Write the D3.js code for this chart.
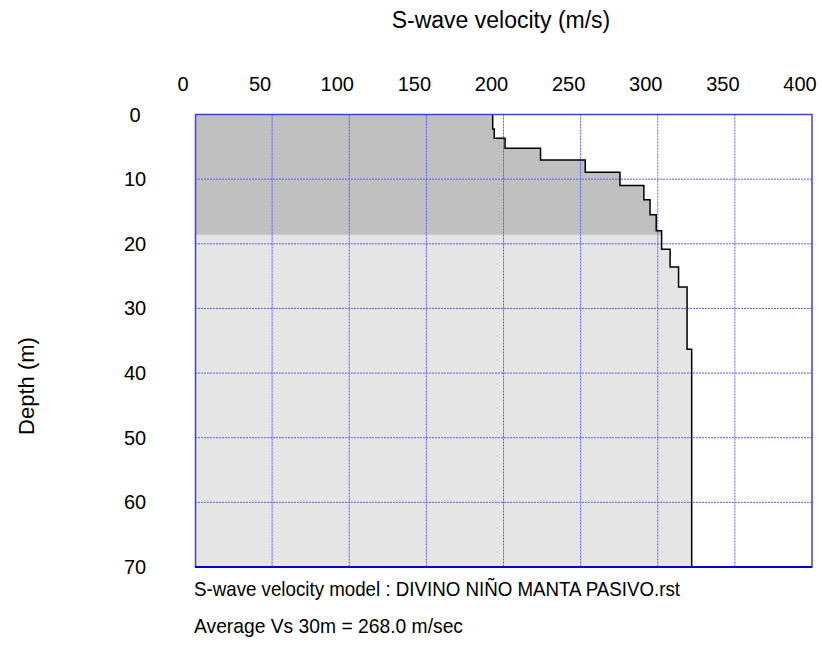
<!DOCTYPE html>
<html><head><meta charset="utf-8">
<script src="https://cdn.jsdelivr.net/npm/d3@7"></script>
<style>body{margin:0;background:#fff}text{font-family:Arial,"Liberation Sans",sans-serif;fill:#000}</style>
</head><body><svg id="c" width="822" height="657"></svg>
<script>
// Layer data: top depth (m), bottom depth (m), S-wave velocity (m/s)
const layerTop    = [0, 2.24, 3.68, 5.23, 7.04, 8.94, 11.0, 13.2, 15.5, 18.0, 20.85, 23.6, 26.7, 36.3];
const layerBottom = [2.24, 3.68, 5.23, 7.04, 8.94, 11.0, 13.2, 15.5, 18.0, 20.85, 23.6, 26.7, 36.3, 70];
const velocity    = [193, 194, 201, 224, 253, 275.5, 291, 295, 299, 302.5, 308, 313.5, 319, 322];
const shadeDepth  = 18.6;
const xTicks = [0, 50, 100, 150, 200, 250, 300, 350, 400];
const yTicks = [0, 10, 20, 30, 40, 50, 60, 70];
const title = "S-wave velocity (m/s)";
const yTitle = "Depth (m)";
const note1 = "S-wave velocity model : DIVINO NIÑO MANTA PASIVO.rst";
const note2 = "Average Vs 30m = 268.0 m/sec";

const svg = d3.select("#c");
const x = d3.scaleLinear().domain([0, 400]).range([195, 812]);
const y = d3.scaleLinear().domain([0, 70]).range([114.5, 567]);

const pts = [];
velocity.forEach((v, i) => { pts.push([v, layerTop[i]]); pts.push([v, layerBottom[i]]); });

const area = d3.area().x0(x(0)).x1(d => x(d[0])).y(d => y(d[1]));
svg.append("defs").append("clipPath").attr("id", "top")
  .append("rect").attr("x", 0).attr("y", 0).attr("width", 822).attr("height", y(shadeDepth));
svg.append("path").attr("d", area(pts)).attr("fill", "#e5e5e5");
svg.append("path").attr("d", area(pts)).attr("fill", "#c0c0c0").attr("clip-path", "url(#top)");

// grid
const grid = svg.append("g").attr("stroke", "#5a5aff").attr("stroke-width", 1).attr("stroke-dasharray", "2,1");
grid.selectAll(".vx").data(xTicks.slice(1, -1)).join("line")
  .attr("x1", d => x(d)).attr("x2", d => x(d)).attr("y1", y(0)).attr("y2", y(70));
grid.selectAll(".hy").data(yTicks.slice(1, -1)).join("line")
  .attr("y1", d => y(d)).attr("y2", d => y(d)).attr("x1", x(0)).attr("x2", x(400));

// step line
svg.append("path").attr("d", d3.line().x(d => x(d[0])).y(d => y(d[1]))(pts))
  .attr("fill", "none").attr("stroke", "#000").attr("stroke-width", 1.5);

// frame
svg.append("rect").attr("x", x(0) + 0.5).attr("y", y(0)).attr("width", x(400) - x(0) - 0.5).attr("height", y(70) - y(0))
  .attr("fill", "none").attr("stroke", "#3c3cff").attr("stroke-width", 1.5);
svg.append("line").attr("x1", x(0)).attr("x2", x(400)).attr("y1", y(70)).attr("y2", y(70))
  .attr("stroke", "#0000dd").attr("stroke-width", 2);

// tick labels
svg.selectAll(".xt").data(xTicks).join("text")
  .attr("x", d => x(d) - 12).attr("y", 84).attr("dy", "0.35em").attr("text-anchor", "middle")
  .style("font-size", "20px").text(d => d);
svg.selectAll(".yt").data(yTicks).join("text")
  .attr("x", 135).attr("y", d => y(d)).attr("dy", "0.35em").attr("text-anchor", "middle")
  .style("font-size", "20px").text(d => d);

svg.append("text").attr("x", 501).attr("y", 28).attr("text-anchor", "middle").style("font-size", "23px").text(title);
svg.append("text").attr("transform", "translate(34,386) rotate(-90)").attr("text-anchor", "middle")
  .style("font-size", "22px").text(yTitle);

svg.append("text").attr("x", 194).attr("y", 596).style("font-size", "21px")
  .attr("textLength", 486).attr("lengthAdjust", "spacingAndGlyphs").text(note1);
svg.append("text").attr("x", 194).attr("y", 633).style("font-size", "21px")
  .attr("textLength", 269).attr("lengthAdjust", "spacingAndGlyphs").text(note2);
</script></body></html>
